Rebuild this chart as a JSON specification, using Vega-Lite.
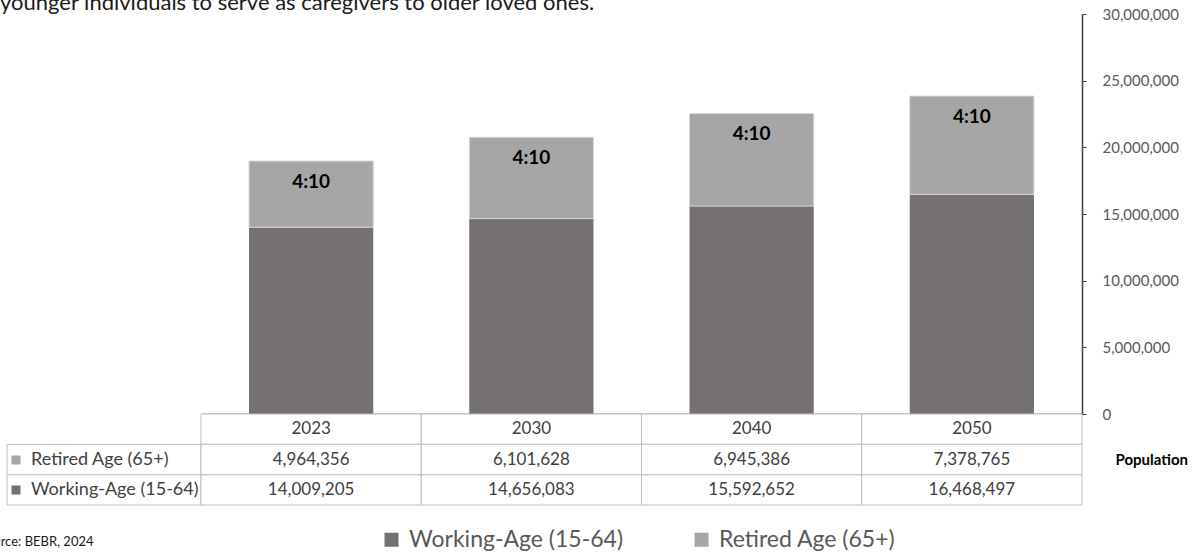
{
  "$schema": "https://vega.github.io/schema/vega-lite/v6.json",
  "autosize": {"type": "none"},
  "padding": {"left": 7, "top": 14, "right": 1189, "bottom": 540},
  "background": "#ffffff",
  "config": {"font": "Lato", "view": {"stroke": null}},
  "datasets": {
    "pop": [
      {"year": "2023", "group": "Working-Age (15-64)", "value": 14009205},
      {"year": "2023", "group": "Retired Age (65+)", "value": 4964356, "ratio": "4:10"},
      {"year": "2030", "group": "Working-Age (15-64)", "value": 14656083},
      {"year": "2030", "group": "Retired Age (65+)", "value": 6101628, "ratio": "4:10"},
      {"year": "2040", "group": "Working-Age (15-64)", "value": 15592652},
      {"year": "2040", "group": "Retired Age (65+)", "value": 6945386, "ratio": "4:10"},
      {"year": "2050", "group": "Working-Age (15-64)", "value": 16468497},
      {"year": "2050", "group": "Retired Age (65+)", "value": 7378765, "ratio": "4:10"}
    ]
  },
  "columns": 2,
  "spacing": 0,
  "bounds": "flush",
  "resolve": {
    "scale": {"color": "independent", "x": "independent", "y": "independent", "stroke": "independent"},
    "legend": {"color": "independent"}
  },
  "concat": [
    {
      "width": 194,
      "height": 400,
      "title": {"text": "younger individuals to serve as caregivers to older loved ones.", "anchor": "start", "frame": "group", "baseline": "alphabetic", "offset": 0, "dy": 18, "dx": -7, "fontSize": 22, "fontWeight": "normal", "color": "#1a1a1a"},
      "data": {"values": []},
      "mark": "point",
      "encoding": {}
    },
    {
      "width": 881,
      "height": 400,
      "data": {"name": "pop"},
      "layer": [
        {
          "mark": {"type": "bar", "strokeWidth": 1},
          "encoding": {
            "x": {"field": "year", "type": "nominal", "scale": {"paddingInner": 0.436, "paddingOuter": 0.218}, "axis": {"title": null, "labels": false, "ticks": false, "domain": true, "domainColor": "#969696", "domainWidth": 2, "grid": false}},
            "y": {"field": "value", "type": "quantitative", "stack": "zero", "scale": {"domain": [0, 30000000]}, "axis": {"orient": "right", "title": null, "values": [0, 5000000, 10000000, 15000000, 20000000, 25000000, 30000000], "format": ",d", "labelFontSize": 15, "labelColor": "#595959", "labelPadding": 16, "tickSize": 4, "tickColor": "#404040", "domainColor": "#404040", "domainWidth": 1.5, "grid": false}},
            "color": {"field": "group", "type": "nominal", "scale": {"domain": ["Working-Age (15-64)", "Retired Age (65+)"], "range": ["#767171", "#a6a6a6"]}, "legend": {"orient": "none", "legendX": 179, "legendY": 514, "direction": "horizontal", "title": null, "symbolType": "square", "symbolSize": 196, "symbolStrokeWidth": 0, "labelFontSize": 23, "labelColor": "#595959", "labelOffset": 6, "columnPadding": 66, "padding": 0, "labelLimit": 400}},
            "stroke": {"field": "group", "type": "nominal", "scale": {"domain": ["Working-Age (15-64)", "Retired Age (65+)"], "range": ["transparent", "#d9d9d9"]}, "legend": null},
            "order": {"field": "group", "type": "ordinal", "sort": "descending"}
          }
        },
        {
          "transform": [
            {"joinaggregate": [{"op": "sum", "field": "value", "as": "total"}], "groupby": ["year"]},
            {"filter": "datum.ratio"}
          ],
          "mark": {"type": "text", "baseline": "middle", "dy": 21, "fontWeight": "bold", "fontSize": 19, "color": "#000000"},
          "encoding": {
            "x": {"field": "year", "type": "nominal"},
            "y": {"field": "total", "type": "quantitative"},
            "text": {"field": "ratio"}
          }
        }
      ]
    },
    {
      "width": 194,
      "height": 91,
      "data": {"name": "pop"},
      "title": {"text": "Source: BEBR, 2024", "orient": "bottom", "anchor": "start", "frame": "group", "baseline": "alphabetic", "offset": 40, "dx": -28, "fontSize": 13, "fontWeight": "normal", "color": "#1a1a1a"},
      "layer": [
        {
          "transform": [{"filter": "datum.year === '2023'"}],
          "mark": {"type": "rect", "fill": "#ffffff", "stroke": "#bfbfbf", "strokeWidth": 1},
          "encoding": {
            "y": {"field": "group", "type": "nominal", "scale": {"domain": ["header", "Retired Age (65+)", "Working-Age (15-64)"], "paddingInner": 0, "paddingOuter": 0}, "axis": null}
          }
        },
        {
          "transform": [{"filter": "datum.year === '2023'"}],
          "mark": {"type": "text", "text": ""},
          "encoding": {
            "color": {"field": "group", "type": "nominal", "scale": {"domain": ["Retired Age (65+)", "Working-Age (15-64)"], "range": ["#a6a6a6", "#767171"]}, "legend": {"orient": "none", "legendX": 0, "legendY": 37, "direction": "vertical", "title": null, "symbolType": "square", "symbolSize": 81, "symbolStrokeWidth": 0, "labelFontSize": 18, "labelColor": "#404040", "labelOffset": 6, "rowPadding": 12, "padding": 0, "labelLimit": 300}}
          }
        }
      ]
    },
    {
      "width": 881,
      "height": 91,
      "data": {"name": "pop"},
      "layer": [
        {
          "transform": [{"filter": "datum.group === 'Working-Age (15-64)'"}],
          "mark": {"type": "rect", "fill": "#ffffff", "stroke": "#bfbfbf", "strokeWidth": 1},
          "encoding": {
            "x": {"field": "year", "type": "nominal", "scale": {"paddingInner": 0, "paddingOuter": 0}, "axis": null},
            "y": {"datum": "header", "type": "nominal", "scale": {"domain": ["header", "Retired Age (65+)", "Working-Age (15-64)"], "paddingInner": 0, "paddingOuter": 0}, "axis": {"orient": "right", "labels": false, "ticks": false, "domain": false, "grid": false, "title": "Population", "titleAngle": 0, "titleAlign": "left", "titleBaseline": "middle", "titleX": 33, "titleY": 45, "titleFontWeight": "bold", "titleFontSize": 15, "titleColor": "#000000"}}
          }
        },
        {
          "transform": [{"filter": "datum.group === 'Working-Age (15-64)'"}],
          "mark": {"type": "text", "fontSize": 17, "color": "#404040"},
          "encoding": {
            "x": {"field": "year", "type": "nominal"},
            "y": {"datum": "header", "type": "nominal"},
            "text": {"field": "year"}
          }
        },
        {
          "mark": {"type": "rect", "fill": "#ffffff", "stroke": "#bfbfbf", "strokeWidth": 1},
          "encoding": {
            "x": {"field": "year", "type": "nominal"},
            "y": {"field": "group", "type": "nominal"}
          }
        },
        {
          "mark": {"type": "text", "fontSize": 17, "color": "#404040"},
          "encoding": {
            "x": {"field": "year", "type": "nominal"},
            "y": {"field": "group", "type": "nominal"},
            "text": {"field": "value", "type": "quantitative", "format": ","}
          }
        }
      ]
    }
  ]
}
